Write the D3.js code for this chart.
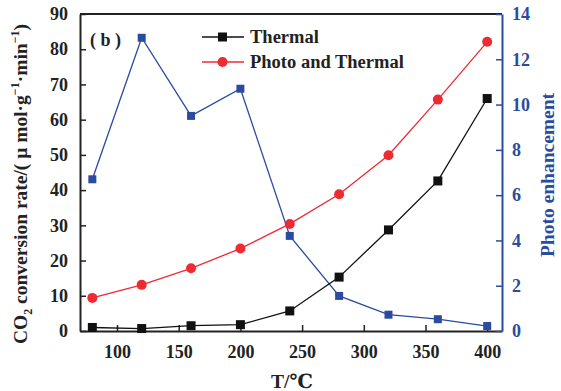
<!DOCTYPE html>
<html>
<head>
<meta charset="utf-8">
<script src="https://cdn.jsdelivr.net/npm/d3@7"></script>
<style>
  body { margin: 0; background: #fff; }
  svg text { font-family: "Liberation Serif", "DejaVu Serif", serif; font-weight: bold; }
</style>
</head>
<body>
<svg id="svg"></svg>
<script>
// data
const temps = [80, 120, 160, 200, 240, 280, 320, 360, 400];
const thermal = [1.0, 0.7, 1.5, 1.8, 5.7, 15.3, 28.7, 42.6, 66.0];
const photoThermal = [9.4, 13.1, 17.8, 23.4, 30.4, 38.8, 49.9, 65.7, 82.1];
const enhancement = [6.7, 12.95, 9.5, 10.7, 4.2, 1.55, 0.72, 0.52, 0.22];
const xTicks = [100, 150, 200, 250, 300, 350, 400];
const leftTicks = [0, 10, 20, 30, 40, 50, 60, 70, 80, 90];
const rightTicks = [0, 2, 4, 6, 8, 10, 12, 14];

const width = 561;
const height = 391;
const blue = "#2b4ba0";
const red = "#ee2a33";
const tickFont = "18px";
const titleFont = "19.5px";

let svg = d3.select("#svg").attr("width", width).attr("height", height);

const margin = { top: 14, right: 59, bottom: 60, left: 80 };
const chartWidth = width - margin.left - margin.right;
const chartHeight = height - margin.top - margin.bottom;

let chart = svg.append("g")
    .attr("transform", "translate(" + margin.left + "," + margin.top + ")");

let x = d3.scaleLinear().domain([70, 412]).range([0, chartWidth]);
let y = d3.scaleLinear().domain([0, 90]).range([chartHeight, 0]);
let y2 = d3.scaleLinear().domain([0, 14]).range([chartHeight, 0]);

// top border
chart.append("line")
    .attr("x1", 0).attr("x2", chartWidth)
    .attr("y1", 0).attr("y2", 0)
    .attr("stroke", "#222").attr("stroke-width", 2);

// bottom axis, ticks inside
let xAxis = chart.append("g")
    .attr("transform", "translate(0," + chartHeight + ")")
    .call(d3.axisBottom(x).tickValues(xTicks).tickSizeInner(-6).tickSizeOuter(0).tickPadding(14));
xAxis.select(".domain").attr("stroke", "#222").attr("stroke-width", 2);
xAxis.selectAll(".tick line").attr("stroke", "#222").attr("stroke-width", 1.5);
xAxis.selectAll("text").style("font-size", tickFont).attr("fill", "#222");

// left axis
let yAxis = chart.append("g")
    .call(d3.axisLeft(y).tickValues(leftTicks).tickSizeInner(-6).tickSizeOuter(0).tickPadding(12));
yAxis.select(".domain").attr("stroke", "#222").attr("stroke-width", 2);
yAxis.selectAll(".tick line").attr("stroke", "#222").attr("stroke-width", 1.5);
yAxis.selectAll("text").style("font-size", tickFont).attr("fill", "#222");

// right axis (blue)
let y2Axis = chart.append("g")
    .attr("transform", "translate(" + chartWidth + ",0)")
    .call(d3.axisRight(y2).tickValues(rightTicks).tickSizeInner(-6).tickSizeOuter(0).tickPadding(10));
y2Axis.select(".domain").attr("stroke", blue).attr("stroke-width", 2);
y2Axis.selectAll(".tick line").attr("stroke", blue).attr("stroke-width", 1.5);
y2Axis.selectAll("text").style("font-size", tickFont).attr("fill", blue);

// series
function drawSeries(values, scale, color, shape, size) {
    const pts = temps.map((t, i) => [x(t), scale(values[i])]);
    chart.append("path")
        .datum(pts)
        .attr("fill", "none")
        .attr("stroke", color)
        .attr("stroke-width", 1.3)
        .attr("d", d3.line());
    if (shape === "square") {
        chart.selectAll(null).data(pts).enter().append("rect")
            .attr("x", d => d[0] - size / 2)
            .attr("y", d => d[1] - size / 2)
            .attr("width", size).attr("height", size)
            .attr("fill", color);
    } else {
        chart.selectAll(null).data(pts).enter().append("circle")
            .attr("cx", d => d[0]).attr("cy", d => d[1])
            .attr("r", size / 2)
            .attr("fill", color);
    }
}

drawSeries(enhancement, y2, blue, "square", 8);
drawSeries(photoThermal, y, red, "circle", 10);
drawSeries(thermal, y, "#111", "square", 9);

// legend
const legend = [
    { name: "Thermal", color: "#111", shape: "square" },
    { name: "Photo and Thermal", color: red, shape: "circle" }
];
legend.forEach((d, i) => {
    const ly = 37 + i * 25;
    svg.append("line")
        .attr("x1", 202).attr("x2", 244)
        .attr("y1", ly).attr("y2", ly)
        .attr("stroke", d.color).attr("stroke-width", 1.3);
    if (d.shape === "square") {
        svg.append("rect").attr("x", 218).attr("y", ly - 4.5)
            .attr("width", 9).attr("height", 9).attr("fill", d.color);
    } else {
        svg.append("circle").attr("cx", 222.5).attr("cy", ly).attr("r", 5).attr("fill", d.color);
    }
    svg.append("text")
        .attr("x", 250).attr("y", ly + 6)
        .style("font-size", "18.5px")
        .attr("fill", "#222")
        .text(d.name);
});

// panel label
svg.append("text")
    .attr("x", 90).attr("y", 46)
    .style("font-size", "18px")
    .attr("fill", "#222")
    .attr("xml:space", "preserve")
    .text("( b )");

// x title
svg.append("text")
    .attr("x", 292).attr("y", 388)
    .attr("text-anchor", "middle")
    .style("font-size", titleFont)
    .attr("fill", "#222")
    .text("T/℃");

// left title
let lt = svg.append("text")
    .attr("transform", "translate(27,184) rotate(-90)")
    .attr("text-anchor", "middle")
    .style("font-size", titleFont)
    .attr("fill", "#222");
lt.append("tspan").text("CO");
lt.append("tspan").attr("dy", 5).style("font-size", "12px").text("2");
lt.append("tspan").attr("dy", -5).text(" conversion rate/( μ mol·g");
lt.append("tspan").attr("dy", -8).style("font-size", "12px").text("−1");
lt.append("tspan").attr("dy", 8).text("·min");
lt.append("tspan").attr("dy", -8).style("font-size", "12px").text("−1");
lt.append("tspan").attr("dy", 8).text(")");

// right title
svg.append("text")
    .attr("transform", "translate(554,175) rotate(-90)")
    .attr("text-anchor", "middle")
    .style("font-size", titleFont)
    .attr("fill", blue)
    .text("Photo enhancement");
</script>
</body>
</html>
